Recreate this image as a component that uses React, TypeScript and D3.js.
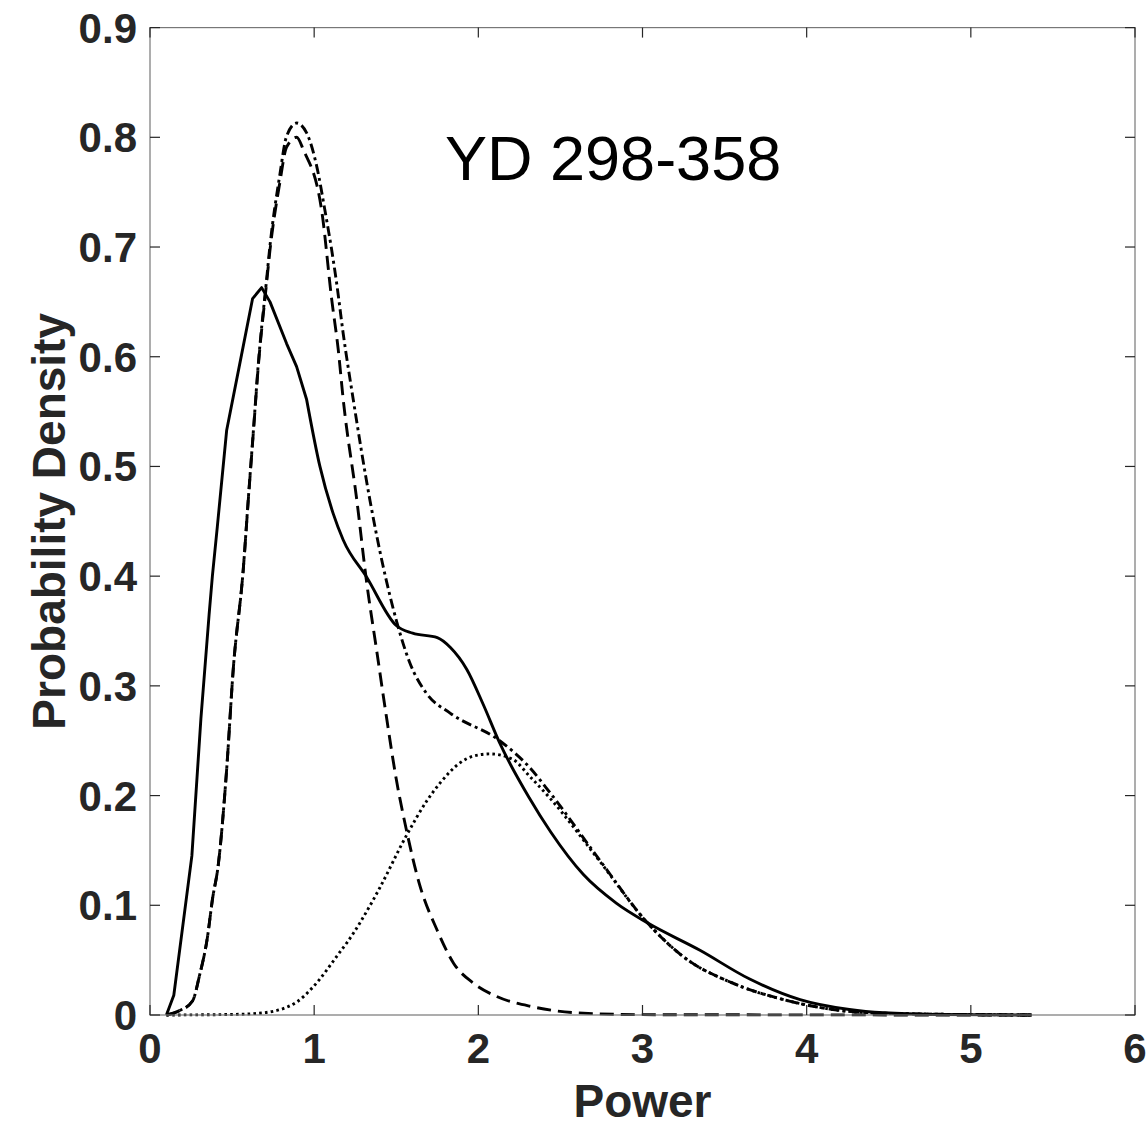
import React from "react";
import * as d3 from "d3";

const xTicks = [0, 1, 2, 3, 4, 5, 6];
const yTicks = [0, 0.1, 0.2, 0.3, 0.4, 0.5, 0.6, 0.7, 0.8, 0.9];
const yTickLabels = ["0", "0.1", "0.2", "0.3", "0.4", "0.5", "0.6", "0.7", "0.8", "0.9"];

const titleText = "YD 298-358";
const xLabel = "Power";
const yLabel = "Probability Density";

// Empirical density (solid): coarse polyline near the peak, smooth tail
const solidHeadX = [0.1, 0.145, 0.255, 0.31, 0.36, 0.38, 0.41, 0.467, 0.55, 0.625, 0.68, 0.731, 0.832, 0.893, 0.954];
const solidHeadY = [0.0, 0.018, 0.145, 0.27, 0.365, 0.4, 0.445, 0.533, 0.596, 0.653, 0.663, 0.65, 0.612, 0.591, 0.561];
const solidTailX = [0.954, 1.035, 1.116, 1.177, 1.32, 1.5, 1.6, 1.75, 1.83, 1.93, 2.03, 2.13, 2.31, 2.44, 2.64, 2.84, 3.03, 3.35, 3.65, 3.96, 4.26, 4.47, 4.8, 5.37];
const solidTailY = [0.561, 0.5, 0.457, 0.433, 0.399, 0.355, 0.348, 0.344, 0.335, 0.315, 0.283, 0.248, 0.198, 0.167, 0.128, 0.102, 0.084, 0.059, 0.033, 0.014, 0.005, 0.002, 0.0005, 0.0];

// Total mixture fit (dash-dot)
const totalX = [0.1, 0.18, 0.26, 0.3, 0.35, 0.38, 0.416, 0.467, 0.507, 0.568, 0.6, 0.63, 0.66, 0.71, 0.73, 0.79, 0.832, 0.893, 0.954, 1.015, 1.066, 1.107, 1.137, 1.177, 1.238, 1.34, 1.42, 1.5, 1.58, 1.685, 1.83, 2.13, 2.31, 2.44, 2.74, 3.03, 3.25, 3.55, 3.86, 4.16, 4.5, 5.37];
const totalY = [0.0, 0.004, 0.013, 0.035, 0.071, 0.105, 0.137, 0.224, 0.315, 0.406, 0.473, 0.533, 0.594, 0.67, 0.7, 0.765, 0.801, 0.813, 0.804, 0.774, 0.733, 0.697, 0.667, 0.621, 0.561, 0.469, 0.409, 0.36, 0.322, 0.293, 0.275, 0.25, 0.226, 0.202, 0.141, 0.084, 0.053, 0.029, 0.014, 0.005, 0.0015, 0.0];

// First component (dashed)
const comp1X = [0.1, 0.18, 0.26, 0.3, 0.35, 0.38, 0.416, 0.467, 0.507, 0.568, 0.6, 0.63, 0.66, 0.71, 0.73, 0.79, 0.832, 0.893, 0.936, 1.046, 1.107, 1.147, 1.177, 1.26, 1.32, 1.38, 1.44, 1.5, 1.56, 1.64, 1.75, 1.85, 1.97, 2.11, 2.33, 2.6, 3.0, 5.37];
const comp1Y = [0.0, 0.004, 0.013, 0.035, 0.071, 0.105, 0.137, 0.224, 0.315, 0.406, 0.472, 0.532, 0.592, 0.667, 0.696, 0.758, 0.791, 0.8, 0.788, 0.733, 0.652, 0.606, 0.561, 0.469, 0.394, 0.333, 0.272, 0.215, 0.17, 0.12, 0.077, 0.047, 0.029, 0.017, 0.0075, 0.002, 0.0003, 0.0];

// Second component (dotted)
const comp2X = [0.1, 0.5, 0.69, 0.895, 0.99, 1.16, 1.2, 1.36, 1.4, 1.56, 1.69, 1.77, 1.89, 1.97, 2.07, 2.21, 2.31, 2.44, 2.74, 3.03, 3.25, 3.55, 3.86, 4.16, 4.5, 5.37];
const comp2Y = [0.0, 0.0005, 0.002, 0.012, 0.025, 0.058, 0.066, 0.105, 0.116, 0.163, 0.196, 0.212, 0.23, 0.236, 0.238, 0.233, 0.218, 0.197, 0.14, 0.084, 0.053, 0.029, 0.014, 0.005, 0.0015, 0.0];

const W = 1147;
const H = 1129;
const L = 150;
const R = 1135;
const T = 27.6;
const B = 1015;

export default function App() {
  const x = d3.scaleLinear().domain([0, 6]).range([L, R]);
  const y = d3.scaleLinear().domain([0, 0.9]).range([B, T]);

  const linear = d3
    .line<[number, number]>()
    .x((d) => x(d[0]))
    .y((d) => y(d[1]));
  const smooth = d3
    .line<[number, number]>()
    .x((d) => x(d[0]))
    .y((d) => y(d[1]))
    .curve(d3.curveMonotoneX);

  const zip = (xs: number[], ys: number[]) => xs.map((v, i) => [v, ys[i]] as [number, number]);

  const solidHead = linear(zip(solidHeadX, solidHeadY)) || "";
  const solidTail = (smooth(zip(solidTailX, solidTailY)) || "").replace(/^M[^CLQ]*/, "");
  const solidPath = solidHead + solidTail;

  const axisColor = "#262626";
  const tickLen = 10;
  const font = "'Liberation Sans', Arial, Helvetica, sans-serif";

  return (
    <svg
      width={W}
      height={H}
      style={{ position: "absolute", left: 0, top: 0, background: "#fff" }}
      fontFamily={font}
    >
      <rect x={0} y={0} width={W} height={H} fill="#fff" />
      {/* curves */}
      <g fill="none" stroke="#000" strokeWidth={2.9} strokeLinejoin="round">
        <path d={smooth(zip(comp2X, comp2Y)) || ""} strokeDasharray="2.6,3.2" />
        <path d={smooth(zip(comp1X, comp1Y)) || ""} strokeDasharray="14,7" />
        <path d={smooth(zip(totalX, totalY)) || ""} strokeDasharray="10,4,3,4" />
        <path d={solidPath} />
      </g>
      {/* box */}
      <rect x={L} y={T} width={R - L} height={B - T} fill="none" stroke="#777" strokeWidth={1.2} />
      {/* ticks */}
      <g stroke={axisColor} strokeWidth={1.2}>
        {xTicks.map((t) => (
          <g key={"xt" + t}>
            <line x1={x(t)} x2={x(t)} y1={B} y2={B - tickLen} />
            <line x1={x(t)} x2={x(t)} y1={T} y2={T + tickLen} />
          </g>
        ))}
        {yTicks.map((t) => (
          <g key={"yt" + t}>
            <line x1={L} x2={L + tickLen} y1={y(t)} y2={y(t)} />
            <line x1={R} x2={R - tickLen} y1={y(t)} y2={y(t)} />
          </g>
        ))}
      </g>
      {/* tick labels */}
      <g fill={axisColor} fontWeight="bold" fontSize={42}>
        {xTicks.map((t) => (
          <text key={"xl" + t} x={x(t)} y={1063} textAnchor="middle">
            {String(t)}
          </text>
        ))}
        {yTicks.map((t, i) => (
          <text key={"yl" + t} x={137} y={y(t) + 15} textAnchor="end">
            {yTickLabels[i]}
          </text>
        ))}
      </g>
      {/* axis labels */}
      <text
        x={(L + R) / 2}
        y={1117}
        textAnchor="middle"
        fontWeight="bold"
        fontSize={46}
        fill={axisColor}
      >
        {xLabel}
      </text>
      <text
        transform={`translate(65,${(T + B) / 2}) rotate(-90)`}
        textAnchor="middle"
        fontWeight="bold"
        fontSize={46}
        fill={axisColor}
      >
        {yLabel}
      </text>
      {/* title annotation */}
      <text x={445} y={180} fontSize={63} fill="#000">
        {titleText}
      </text>
    </svg>
  );
}
